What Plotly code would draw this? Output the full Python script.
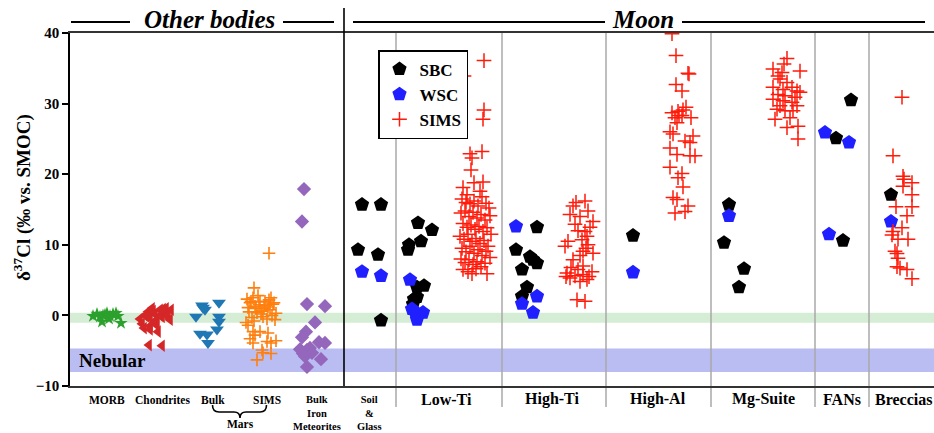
import plotly.graph_objects as go

SERIF = "Liberation Serif, Times New Roman, serif"

# ---------------- Other bodies (x = horizontal position, y = d37Cl permil) ----------------
morb_x = [93, 97, 100, 102, 105, 107, 110, 113, 116, 118, 121, 103, 109]
morb_y = [-0.1, 0.2, -0.2, -0.9, 0.1, 0.3, -0.1, 0.2, 0.3, -0.1, -1.1, 0.0, -0.5]

chond_x = [140, 144, 148, 150, 152, 155, 157, 160, 162, 164, 166, 168, 170, 145, 150,
           155, 160, 165, 142, 147, 153, 158, 163, 167, 171, 150, 156, 149, 162]
chond_y = [-0.5, -1.8, 0.5, -0.3, 1.0, 0.2, -1.0, 0.8, -0.2, 0.5, 1.0, 0.3, -0.6, 0.0, -1.5,
           -0.8, 0.0, 0.7, -1.2, -0.2, 0.6, -2.3, 0.9, -0.1, 0.8, -2.0, -1.3, -4.2, -4.3]

marsbulk_x = [196, 202, 205, 219, 219, 219, 217, 200, 207, 208, 203]
marsbulk_y = [-0.2, 1.4, 0.8, 1.8, -0.2, -0.9, -2.0, -2.6, -2.7, -3.9, 1.1]

marssims_x = [247, 250, 253, 256, 259, 262, 265, 268, 271, 274, 249, 252, 255, 258, 261,
              264, 267, 270, 273, 276, 248, 251, 254, 257, 260, 263, 266, 269, 272, 275,
              248, 253, 260, 268, 250, 253, 267, 271, 276, 262, 263, 271, 257, 254, 269, 246, 255]
marssims_y = [2.3, 1.8, 2.5, 1.0, 1.5, 0.6, 2.0, 1.2, 2.5, 1.8, 0.5, -0.3, 1.3, 2.8, 0.2,
              1.0, -0.5, 0.8, 1.6, 0.3, 1.1, 2.0, -0.8, 0.4, 1.9, -0.2, 1.4, 2.2, 0.0, -0.6,
              -1.4, -2.3, -2.3, -2.5, -3.3, -3.9, -3.7, -3.9, -3.6, -4.9, -5.3, -5.4, -6.3, 3.9, 8.8, -1.0, -2.8]

iron_x = [304, 302, 307, 325, 315, 306, 302, 319, 325, 307, 312, 303, 321, 307, 310, 300, 305]
iron_y = [17.9, 13.3, 1.6, 1.3, -1.0, -2.3, -3.1, -3.8, -3.9, -4.9, -5.3, -5.4, -6.2, -7.3, -4.6, -4.8, -5.8]

# ---------------- Moon ----------------
# SBC: Soil&Glass, Low-Ti, High-Ti, High-Al, Mg-Suite, FANs, Breccias
sbc_x = [362, 381, 358, 378, 381,
         418, 432, 421, 409, 408, 417, 424, 414, 417, 413, 417,
         537, 516, 530, 533, 537, 522, 527, 522,
         633,
         729, 724, 744, 739,
         851, 836, 843,
         891]
sbc_y = [15.7, 15.7, 9.3, 8.6, -0.7,
         13.1, 12.1, 10.5, 10.0, 9.3, 4.0, 4.2, 2.3, 2.6, 1.6, 0.2,
         12.5, 9.3, 8.3, 7.9, 7.4, 6.5, 4.0, 2.7,
         11.3,
         15.7, 10.3, 6.6, 4.0,
         30.5, 25.1, 10.6,
         17.1]

wsc_x = [362, 381,
         410, 412, 423, 417, 415,
         516, 537, 522, 533,
         633,
         729,
         825, 849, 829,
         891]
wsc_y = [6.2, 5.6,
         5.05, 0.9, 0.4, -0.6, 0.5,
         12.6, 2.7, 1.65, 0.4,
         6.1,
         14.1,
         25.9, 24.5, 11.5,
         13.3]

lowti_sims_x = [484, 464, 484, 483, 482, 470, 472, 471, 474, 483, 463, 480, 467,
                462, 466, 470, 474, 478, 482, 486, 489,
                461, 465, 469, 473, 477, 481, 485, 490,
                463, 467, 471, 475, 479, 483, 487, 491,
                460, 464, 468, 472, 476, 480, 484, 488,
                462, 466, 470, 474, 478, 482, 486, 490,
                461, 465, 469, 473, 477, 481, 485,
                463, 468, 472, 487, 476]
lowti_sims_y = [36.1, 33.9, 29.1, 27.8, 23.2, 22.9, 22.3, 20.6, 18.8, 18.9, 18.1, 17.6, 17.1,
                16.5, 16.0, 15.8, 16.2, 15.5, 16.8, 15.9, 15.2,
                14.5, 14.8, 14.0, 14.6, 13.8, 14.3, 13.5, 14.1,
                13.0, 12.5, 12.8, 12.2, 12.6, 11.9, 12.4, 11.5,
                11.2, 10.8, 11.5, 10.5, 10.9, 10.2, 10.6, 9.8,
                9.5, 9.0, 9.8, 8.8, 9.3, 8.5, 9.1, 8.2,
                8.0, 7.5, 7.9, 7.2, 7.6, 6.9, 7.4,
                6.5, 6.2, 5.9, 5.9, 6.6]

highti_sims_x = [585, 573, 588, 570, 593, 575, 580, 585, 587, 568, 582, 588, 593, 583, 573,
                 586, 578, 590, 565, 580, 567, 570, 578, 583, 592, 587, 580, 575, 571, 589,
                 577, 585, 566, 583, 576]
highti_sims_y = [16.2, 15.5, 14.8, 14.3, 13.3, 12.9, 14.0, 11.9, 11.2, 10.5, 10.7, 10.0, 8.8, 9.1, 7.9,
                 9.5, 12.0, 12.5, 9.8, 8.5, 6.0, 5.3, 6.5, 5.8, 6.2, 5.1, 4.8, 5.6, 6.8, 5.5,
                 2.2, 2.0, 5.5, 7.0, 16.0]

highal_sims_x = [672, 676, 688, 689, 676, 682, 686, 672, 678, 683, 682, 675, 691, 677, 670,
                 673, 693, 685, 690, 670, 677, 690, 695, 670, 682, 678, 683, 673, 677, 688,
                 675, 685, 679]
highal_sims_y = [39.9, 36.8, 34.3, 34.2, 32.7, 31.8, 29.5, 28.7, 28.9, 29.1, 28.3, 28.0, 28.0, 27.3, 26.0,
                 25.7, 25.4, 24.7, 24.5, 23.7, 22.8, 22.6, 22.6, 21.0, 20.1, 19.5, 18.2, 16.7, 16.4, 15.5,
                 14.5, 14.7, 28.3]

mg_sims_x = [787, 784, 800, 773, 782, 778, 780, 787, 773, 783, 792, 797, 800, 778, 785,
             773, 795, 783, 792, 780, 797, 777, 785, 793, 790, 775, 787, 798, 798]
mg_sims_y = [36.4, 35.6, 34.6, 34.9, 34.4, 33.9, 33.5, 33.0, 32.3, 32.0, 32.3, 31.8, 31.6, 31.3, 31.1,
             30.6, 30.9, 30.4, 30.2, 29.7, 29.7, 29.2, 29.0, 29.0, 28.0, 27.8, 26.6, 26.8, 25.0]

brec_sims_x = [902, 893, 903, 904, 912, 903, 912, 896, 912, 907, 902, 893, 892, 898, 908,
               895, 897, 898, 897, 900, 907, 912]
brec_sims_y = [30.9, 22.6, 19.7, 19.3, 18.8, 18.3, 17.1, 15.4, 15.4, 14.1, 12.4, 11.9, 11.4, 10.8, 10.8,
               9.1, 8.75, 8.1, 6.9, 6.7, 6.5, 5.2]

sims_x = lowti_sims_x + highti_sims_x + highal_sims_x + mg_sims_x + brec_sims_x
sims_y = lowti_sims_y + highti_sims_y + highal_sims_y + mg_sims_y + brec_sims_y

# category labels
other_labels = ["MORB", "Chondrites", "Bulk", "SIMS"]
other_label_x = [107, 162, 213, 267]
multi_labels = ["Bulk<br>Iron<br>Meteorites", "Soil<br>&amp;<br>Glass"]
multi_label_x = [317, 369]
moon_labels = ["Low-Ti", "High-Ti", "High-Al", "Mg-Suite", "FANs", "Breccias"]
moon_label_x = [446, 552, 658, 763, 842, 903]
moon_dividers = [396, 502, 606, 711, 815, 869]

# bands (permil)
terr_band = [-1.05, 0.37]
nebular_band = [-8.0, -4.7]

fig = go.Figure()

def pts(x, y, symbol, color, size, name, legend=False, line=None):
    mk = dict(symbol=symbol, color=color, size=size)
    if line:
        mk["line"] = line
    fig.add_trace(go.Scatter(x=x, y=y, mode="markers", marker=mk, name=name, showlegend=legend))

pts(morb_x, morb_y, "star", "#2ca02c", 10, "MORB")
pts(chond_x, chond_y, "triangle-left", "#d62728", 11, "Chondrites")
pts(marsbulk_x, marsbulk_y, "triangle-down", "#1f77b4", 12, "Mars bulk")
pts(marssims_x, marssims_y, "cross-thin", "#ff7f0e", 9, "Mars SIMS",
    line=dict(color="#ff7f0e", width=1.6))
pts(iron_x, iron_y, "diamond", "#9467bd", 11, "Iron")

pts(sbc_x, sbc_y, "pentagon", "black", 15, "SBC", legend=True)
pts(wsc_x, wsc_y, "pentagon", "#1f1fff", 15, "WSC", legend=True)
pts(sims_x, sims_y, "cross-thin", "#ff1a0a", 10.5, "SIMS", legend=True,
    line=dict(color="#ff1a0a", width=1.5))

PT, PB = 33, 386
H = PB - PT
def py(p):
    return (PB - p) / H

shapes = []
shapes.append(dict(type="rect", xref="paper", yref="y", x0=0, x1=1, y0=terr_band[0], y1=terr_band[1],
                   fillcolor="rgba(44,160,44,0.2)", line=dict(width=0), layer="below"))
shapes.append(dict(type="rect", xref="paper", yref="y", x0=0, x1=1, y0=nebular_band[0], y1=nebular_band[1],
                   fillcolor="rgba(40,50,210,0.32)", line=dict(width=0), layer="below"))
for xd in moon_dividers:
    shapes.append(dict(type="line", xref="x", yref="paper", x0=xd, x1=xd, y0=py(407), y1=1,
                       line=dict(color="#a8a8a8", width=1.5), layer="below"))
shapes.append(dict(type="line", xref="x", yref="paper", x0=344, x1=344, y0=0, y1=py(8),
                   line=dict(color="black", width=1.6)))
for a, b in [(71, 130), (283, 334), (353, 605), (682, 925)]:
    shapes.append(dict(type="line", xref="x", yref="paper", x0=a, x1=b, y0=py(22), y1=py(22),
                       line=dict(color="black", width=1.8)))
yt, ym, yb = py(405), py(412), py(418)
brace = (f"M 212.5,{yt} Q 212.5,{ym} 219,{ym} L 234,{ym} Q 240,{ym} 240,{yb} "
         f"Q 240,{ym} 246,{ym} L 260,{ym} Q 266.5,{ym} 266.5,{yt}")
shapes.append(dict(type="path", xref="x", yref="paper", path=brace, line=dict(color="black", width=1.6)))

ann = []
for t, x in zip(other_labels, other_label_x):
    ann.append(dict(x=x, y=py(400), xref="x", yref="paper", text=f"<b>{t}</b>", showarrow=False,
                    xanchor="center", yanchor="middle", font=dict(family=SERIF, size=11.5, color="black")))
for t, x in zip(multi_labels, multi_label_x):
    ann.append(dict(x=x, y=py(413), xref="x", yref="paper", text=f"<b>{t}</b>", showarrow=False,
                    xanchor="center", yanchor="middle", font=dict(family=SERIF, size=10.5, color="black")))
ann.append(dict(x=240, y=py(424), xref="x", yref="paper", text="<b>Mars</b>", showarrow=False,
                xanchor="center", yanchor="middle", font=dict(family=SERIF, size=11.5, color="black")))
for t, x in zip(moon_labels, moon_label_x):
    ann.append(dict(x=x, y=py(399), xref="x", yref="paper", text=f"<b>{t}</b>", showarrow=False,
                    xanchor="center", yanchor="middle", font=dict(family=SERIF, size=16, color="black")))
ann.append(dict(x=209, y=py(20), xref="x", yref="paper", text="<b><i>Other bodies</i></b>", showarrow=False,
                xanchor="center", yanchor="middle", font=dict(family=SERIF, size=25, color="black")))
ann.append(dict(x=643, y=py(20), xref="x", yref="paper", text="<b><i>Moon</i></b>", showarrow=False,
                xanchor="center", yanchor="middle", font=dict(family=SERIF, size=25, color="black")))
ann.append(dict(x=77, y=-6.35, xref="x", yref="y", text="<b>Nebular</b>", showarrow=False,
                xanchor="left", yanchor="middle", font=dict(family=SERIF, size=19, color="black")))
ann.append(dict(x=(22 - 70) / 864, y=py(198), xref="paper", yref="paper",
                text="<b>δ<sup>37</sup>Cl (‰ vs. SMOC)</b>",
                showarrow=False, textangle=-90, xanchor="center", yanchor="middle",
                font=dict(family=SERIF, size=19, color="black")))

fig.update_layout(
    width=934, height=433,
    margin=dict(l=70, r=0, t=PT, b=433 - PB),
    paper_bgcolor="white", plot_bgcolor="white",
    showlegend=True,
    legend=dict(x=(378 - 70) / 864, y=py(50), xanchor="left", yanchor="top",
                bgcolor="white", bordercolor="black", borderwidth=1.5,
                font=dict(family=SERIF, size=17, color="black", weight="bold"),
                itemsizing="trace", tracegroupgap=0),
    xaxis=dict(range=[70, 934], showgrid=False, zeroline=False, showticklabels=False,
               ticks="", showline=True, mirror=True, linecolor="#333333", linewidth=1.6, fixedrange=True),
    yaxis=dict(range=[-10, 40], tickvals=[-10, 0, 10, 20, 30, 40], showgrid=False, zeroline=False,
               ticks="outside", ticklen=6, tickwidth=1.5, tickcolor="black",
               showline=True, linecolor="black", linewidth=1.6,
               tickfont=dict(family=SERIF, size=15, color="black", weight="bold")),
    shapes=shapes,
    annotations=ann,
)

fig.write_html("out.html")
